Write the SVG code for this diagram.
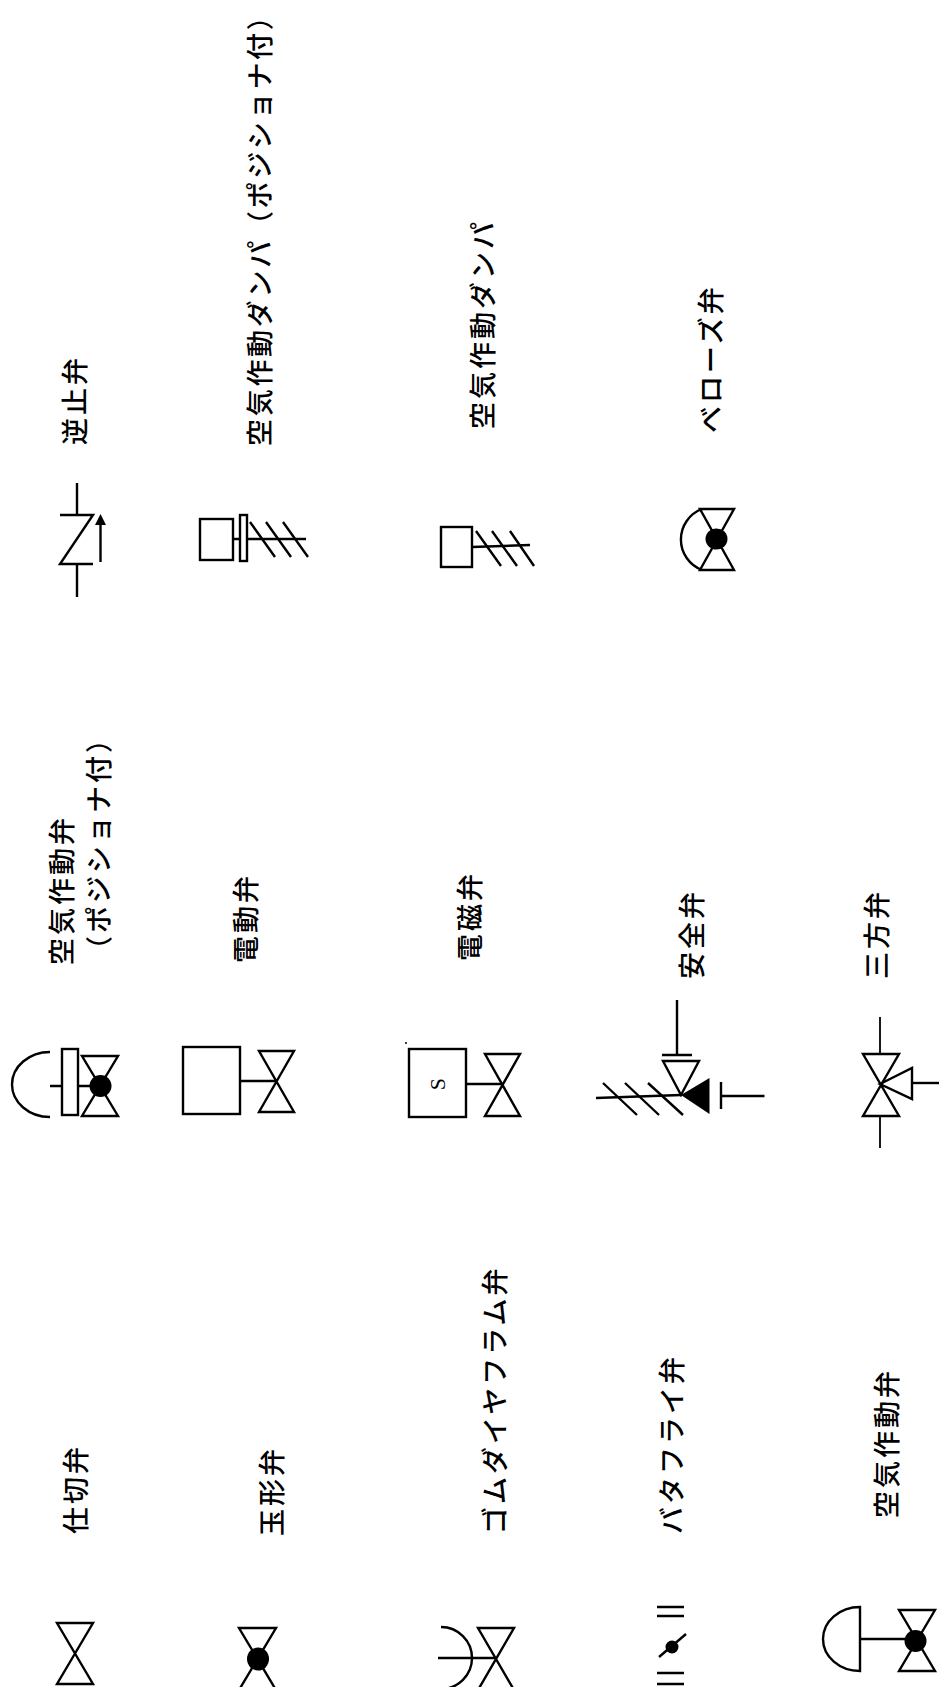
<svg xmlns="http://www.w3.org/2000/svg" width="939" height="1687" viewBox="0 0 939 1687">
<style>
.s{fill:none;stroke:#000;stroke-width:2.400}
.w{fill:#fff;stroke:#000;stroke-width:2.400}
.t{stroke-width:1.800}
.f{fill:#000;stroke:none}
.l{font-family:"Noto Sans CJK JP","Noto Sans",sans-serif;font-size:27px;font-weight:500;letter-spacing:3px;fill:#000}
.n{letter-spacing:2.700px}
</style>
<rect width="939" height="1687" fill="#fff"/>
<g id="connectors" class="s">
<path d="M50 1086H100"/>
<path d="M240 1081H276"/>
<path d="M466 1084H502"/>
<path d="M860 1639H915"/>
<path d="M438 1658H496"/>
<path d="M233 539H306"/>
<path d="M472 547L530 545"/>
<path d="M596 1098L681 1095"/>
<path d="M912 1083H939"/>
</g>
<g id="check-valve">
<path class="s" d="M77 483V515M60 515H93L60 564H93M77 564V597"/>
<path class="s" d="M100.500 562V522"/>
<polygon class="f" points="100.500,514 106,525 95,525"/>
<text class="l" xml:lang="ja" transform="translate(85 445) rotate(-90)">逆止弁</text>
</g>
<g id="damper-positioner">
<rect class="w" x="200" y="519" width="33" height="41"/>
<rect class="w" x="240" y="515" width="7" height="46"/>
<path class="s" d="M250 522L275 557M266 522L291 557M283 522L308 557"/>
<text class="l n" xml:lang="ja" transform="translate(270 446) rotate(-90)">空気作動ダンパ（ポジショナ付）</text>
</g>
<g id="damper">
<rect class="w" x="441" y="527" width="31" height="40"/>
<path class="s" d="M476 531L501 566M492 531L517 566M510 531L534 566"/>
<text class="l" xml:lang="ja" transform="translate(493 429) rotate(-90)">空気作動ダンパ</text>
</g>
<g id="bellows-valve">
<path class="s" d="M700 509H734L700 570H734Z"/>
<ellipse class="f" cx="716.500" cy="539" rx="11" ry="10.500"/>
<path class="s" d="M702 509A32.600 32.600 0 0 0 702 570"/>
<text class="l" xml:lang="ja" transform="translate(721 433) rotate(-90)">ベローズ弁</text>
</g>
<g id="air-valve-positioner">
<path class="s" d="M50 1052A38 32.500 0 0 0 50 1117"/>
<rect class="w" x="62" y="1049" width="16" height="66"/>
<path class="s" d="M82 1056H118L82 1116H118Z"/>
<circle class="f" cx="100.500" cy="1086" r="11"/>
<text class="l" xml:lang="ja" transform="translate(72 965) rotate(-90)">空気作動弁</text>
<text class="l" xml:lang="ja" transform="translate(109 963) rotate(-90)">（ポジショナ付）</text>
</g>
<g id="motor-valve">
<rect class="w" x="183" y="1047" width="57" height="67"/>
<path class="s" d="M259 1051H294L259 1112H294Z"/>
<text class="l" xml:lang="ja" transform="translate(256 963) rotate(-90)">電動弁</text>
</g>
<g id="solenoid-valve">
<rect class="w" x="409" y="1049" width="57" height="68"/>
<path class="s" d="M485 1054H520L485 1116H520Z"/>
<text font-family="Liberation Serif,serif" font-size="22" fill="#000" transform="translate(445 1084) rotate(-90)" text-anchor="middle">S</text>
<circle class="f" cx="406" cy="1043" r="1"/>
<text class="l" xml:lang="ja" transform="translate(480 961) rotate(-90)">電磁弁</text>
</g>
<g id="safety-valve">
<path class="s" d="M677 1000V1054M662 1055H692"/>
<path class="s" d="M663 1061H699L681 1095Z"/>
<polygon class="f" points="681,1095 709.500,1078 709.500,1114"/>
<path class="s" d="M721 1082V1109M721 1096H764.500"/>
<path class="s" d="M603 1083L637 1115M625 1083L659 1115M648 1083L683 1115"/>
<text class="l" xml:lang="ja" transform="translate(702 979) rotate(-90)">安全弁</text>
</g>
<g id="three-way-valve">
<path class="s t" d="M880 1017V1054M880 1116V1148"/>
<path class="s" d="M863 1054H899L863 1116H899Z"/>
<path class="s" d="M880 1084L912 1068V1099Z"/>
<text class="l" xml:lang="ja" transform="translate(887 979) rotate(-90)">三方弁</text>
</g>
<g id="gate-valve">
<path class="s" d="M57 1623H93L57 1684H93Z"/>
<text class="l" xml:lang="ja" transform="translate(86 1534) rotate(-90)">仕切弁</text>
</g>
<g id="globe-valve">
<path class="s" d="M239 1628H276L239 1690H276Z"/>
<ellipse class="f" cx="258" cy="1659" rx="11" ry="11.500"/>
<text class="l" xml:lang="ja" transform="translate(282 1536) rotate(-90)">玉形弁</text>
</g>
<g id="diaphragm-valve">
<path class="s" d="M478 1628H514L478 1690H514Z"/>
<path class="s" d="M441 1627A31 31 0 0 1 441 1689"/>
<text class="l" xml:lang="ja" transform="translate(505 1534) rotate(-90)">ゴムダイヤフラム弁</text>
</g>
<g id="butterfly-valve">
<path class="s" d="M657 1607H684M657 1616H684M657 1673H684M657 1684H684"/>
<path class="s" d="M659 1657L686 1634"/>
<circle class="f" cx="672" cy="1647" r="6.500"/>
<text class="l" xml:lang="ja" transform="translate(682 1534) rotate(-90)">バタフライ弁</text>
</g>
<g id="air-valve">
<path class="s" d="M860 1607A37 32 0 0 0 860 1671Z"/>
<path class="s" d="M899 1610H935L899 1671H935Z"/>
<circle class="f" cx="915.500" cy="1641" r="11"/>
<text class="l" xml:lang="ja" transform="translate(897 1518) rotate(-90)">空気作動弁</text>
</g>
</svg>
